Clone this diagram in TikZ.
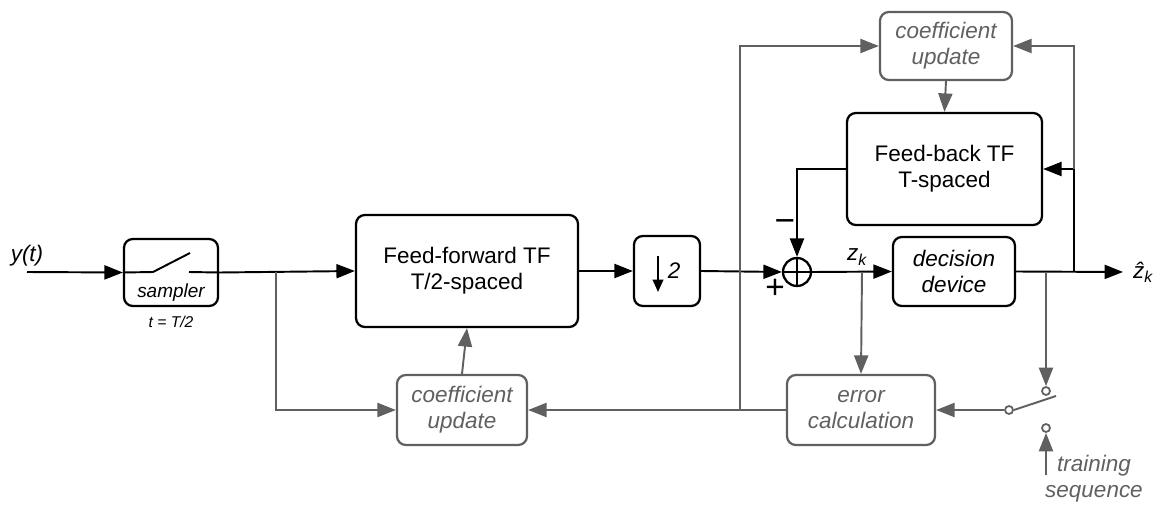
\documentclass[tikz,border=0pt]{standalone}
\usepackage{fontspec}
\setmainfont{Liberation Sans}
\usetikzlibrary{arrows.meta}
\definecolor{linegray}{RGB}{96,96,96}
\newcommand{\bigfont}{\fontsize{12.8}{14.8}\selectfont}
\tikzset{
  >={Triangle[length=10.5pt,width=8pt]},
}
\tikzstyle{block}=[draw,rounded corners=5pt,line width=1.3pt,align=center,font=\bigfont]
\tikzstyle{gblock}=[block,draw=linegray,text=linegray,font=\bigfont\itshape]
\tikzstyle{sig}=[line width=1.1pt,->]
\tikzstyle{gsig}=[sig,linegray]
\tikzstyle{contact}=[circle,draw=linegray,fill=white,line width=1pt,inner sep=0pt,minimum size=0.16cm]

\begin{document}
\begin{tikzpicture}[x=0.02cm,y=-0.02cm]
  \useasboundingbox (0,0) rectangle (1154,507);

  % forward path
  \node[block,minimum width=1.88cm,minimum height=1.34cm] (smp) at (171,272.5) {};
  \node[block,minimum width=4.44cm,minimum height=2.24cm] (ff) at (467,271) {Feed-forward TF\\T/2-spaced};
  \node[block,minimum width=1.32cm,minimum height=1.40cm] (dwn) at (667,271) {};
  \node[circle,draw,line width=1.3pt,minimum size=0.56cm,inner sep=0pt] (sum) at (797,272) {};
  \node[block,font=\bigfont\itshape,minimum width=2.44cm,minimum height=1.38cm] (dec) at (954,271.5) {decision\\device};
  \node[block,minimum width=3.9cm,minimum height=2.24cm] (fb) at (944.5,169) {Feed-back TF\\T-spaced};

  % adaptation blocks
  \node[gblock,minimum width=2.64cm,minimum height=1.36cm] (cutop) at (946,46) {coefficient\\update};
  \node[gblock,minimum width=2.6cm,minimum height=1.4cm] (cubot) at (462,410) {coefficient\\update};
  \node[gblock,minimum width=2.96cm,minimum height=1.4cm] (err) at (861,410) {error\\calculation};

  % training switch
  \node[contact] (piv) at (1009,410) {};
  \node[contact] (up) at (1046,391) {};
  \node[contact] (lo) at (1046,428) {};

  \coordinate (in) at (27,272);
  \coordinate (out) at (1123,272);
  \coordinate (trn) at (1046,475);
  \coordinate (tapff) at (276,272);
  \coordinate (tapz) at (862,272);
  \coordinate (tapd) at (1046,272);
  \coordinate (tapo) at (1074,272);
  \coordinate (tapfb) at (1074,169);
  \coordinate (tape) at (740,410);

  % sampler switch and its labels
  \draw[line width=1.1pt] (smp.west) -- (153,272) -- (190,253);
  \draw[line width=1.1pt] (189,272) -- (smp.east);
  \node[font=\fontsize{10.8}{12}\selectfont\itshape] at (171,293) {sampler};
  \node[font=\fontsize{8.9}{10}\selectfont\itshape] at (171,322) {t = T/2};

  % down-sampler symbol
  \draw[line width=1.1pt,-{Triangle[length=7pt,width=6pt]}] (658,256) -- (658,292);
  \node[font=\bigfont\itshape] at (674,271) {2};

  % summing junction
  \draw[line width=1.3pt] (sum.north) -- (sum.south) (sum.west) -- (sum.east);

  % black signal path
  \draw[sig] (in) -- (smp.west);
  \draw[sig] (smp.east) -- (ff.west);
  \draw[sig] (ff.east) -- (dwn.west);
  \draw[sig] (dwn.east) -- (sum.west);
  \draw[sig] (sum.east) -- (dec.west);
  \draw[sig] (dec.east) -- (out);
  \draw[sig] (fb.west) -| (sum.north);
  \draw[sig] (tapo) |- (fb.east);

  % gray adaptation path
  \draw[gsig] (tapff) |- (cubot.west);
  \draw[gsig] (cubot.north) -- (ff.south);
  \draw[gsig] (err.west) -- (cubot.east);
  \draw[gsig] (tape) |- (cutop.west);
  \draw[gsig] (tapfb) |- (cutop.east);
  \draw[gsig] (cutop.south) -- (fb.north);
  \draw[gsig] (tapz) -- (err.north);
  \draw[gsig] (tapd) -- (up.north);
  \draw[gsig] (piv.west) -- (err.east);
  \draw[linegray,line width=1.1pt] (piv.east) -- (1056,396);
  \draw[gsig] (trn) -- (lo.south);

  % labels
  \node[font=\bigfont\itshape] at (27,256) {y(t)};
  \node[font=\bigfont\itshape] at (857,257) {z\textsubscript{k}};
  \node[font=\bigfont\itshape,anchor=west] at (1127,272) {\^{z}\textsubscript{k}};
  \node[font=\fontsize{20}{20}\selectfont] at (785,226) {−};
  \node[font=\fontsize{19}{19}\selectfont] at (775,289) {+};
  \node[font=\bigfont\itshape,text=linegray,align=center] at (1094,479) {training\\sequence};
\end{tikzpicture}
\end{document}
